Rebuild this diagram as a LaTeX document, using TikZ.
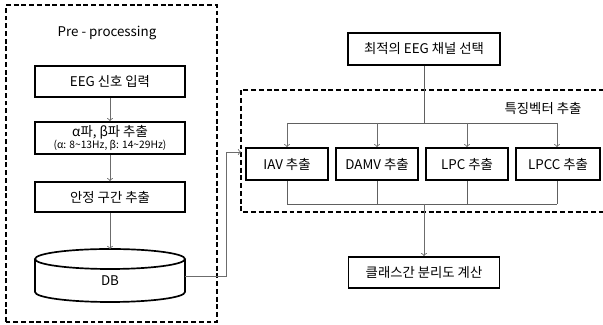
\documentclass[tikz,border=0pt]{standalone}
\usepackage{fontspec}
\setmainfont{Noto Sans CJK KR}
\tikzset{
    box/.style={draw, line width=1.2pt, minimum height=0.78cm, inner sep=1pt},
    link/.style={->, gray!85!black, line width=0.6pt},
    bus/.style={gray!75!black, line width=0.6pt},
    frame/.style={draw, line width=1.2pt, dash pattern=on 3.5pt off 2pt}
}
\begin{document}
\begin{tikzpicture}[font=\fontsize{9.5}{11}\selectfont]
    \useasboundingbox (0,0) rectangle (15.075,8.125);

    % Pre-processing frame
    \draw[frame] (0.15,0.075) rectangle (5.425,8.0);
    \node (pre) at (2.675,7.3) {Pre - processing};

    % Pre-processing steps
    \node[box, minimum width=3.75cm] (in) at (2.75,6.0875) {EEG 신호 입력};
    \node[box, minimum width=3.75cm, minimum height=0.8cm, align=center] (ab) at (2.75,4.675)
        {α파, β파 추출\\[-3pt]{\fontsize{7.3}{8}\selectfont (α: 8\textasciitilde13Hz, β: 14\textasciitilde29Hz)}};
    \node[box, minimum width=3.75cm, minimum height=0.75cm] (seg) at (2.75,3.2) {안정 구간 추출};

    % Database
    \draw[line width=1.2pt] (0.875,1.65) -- (0.875,0.825)
        arc[start angle=180, end angle=360, x radius=1.875, y radius=0.25] -- (4.625,1.65);
    \draw[line width=1.2pt] (2.75,1.65) ellipse[x radius=1.875, y radius=0.25];
    \node (db) at (2.75,1.1) {DB};
    \coordinate (dbtop) at (2.75,1.9);
    \coordinate (dbout) at (4.625,1.225);

    \draw[link] (in) -- (ab);
    \draw[link] (ab) -- (seg);
    \draw[link] (seg) -- (dbtop);

    % Channel selection
    \node[box, minimum width=3.8cm, minimum height=0.8cm] (sel) at (10.6,6.9) {최적의 EEG 채널 선택};

    % Feature vector frame
    \draw[frame] (15.1,5.875) -- (6.025,5.875) -- (6.025,2.825) -- (15.1,2.825);
    \node (fv) at (13.575,5.425) {특징벡터 추출};

    \node[box, minimum width=2.05cm, minimum height=0.8cm] (iav) at (7.175,4.025) {IAV 추출};
    \node[box, minimum width=2.05cm, minimum height=0.8cm] (damv) at (9.425,4.025) {DAMV 추출};
    \node[box, minimum width=2.05cm, minimum height=0.8cm] (lpc) at (11.675,4.025) {LPC 추출};
    \node[box, minimum width=2.1cm, minimum height=0.8cm] (lpcc) at (13.95,4.025) {LPCC 추출};

    \coordinate (topbus) at (10.6,5.05);
    \coordinate (lowbus) at (10.6,3.025);
    \coordinate (fvin) at (6.025,4.325);

    % Class separability
    \node[box, minimum width=3.78cm] (cls) at (10.6,1.3125) {클래스간 분리도 계산};

    % Connectors
    \draw[link] (dbout) -- (5.65,1.225) |- (fvin);
    \draw[bus] (sel) -- (topbus);
    \draw[bus] (7.175,5.05) -- (13.925,5.05);
    \foreach \f/\x in {iav/7.175, damv/9.425, lpc/11.675, lpcc/13.925}
    {
        \draw[link] (\x,5.05) -- (\f.north -| \x,0);
        \draw[bus] (\f.south -| \x,0) -- (\x,3.025);
    }
    \draw[bus] (7.175,3.025) -- (13.925,3.025);
    \draw[link] (lowbus) -- (cls);
\end{tikzpicture}
\end{document}
